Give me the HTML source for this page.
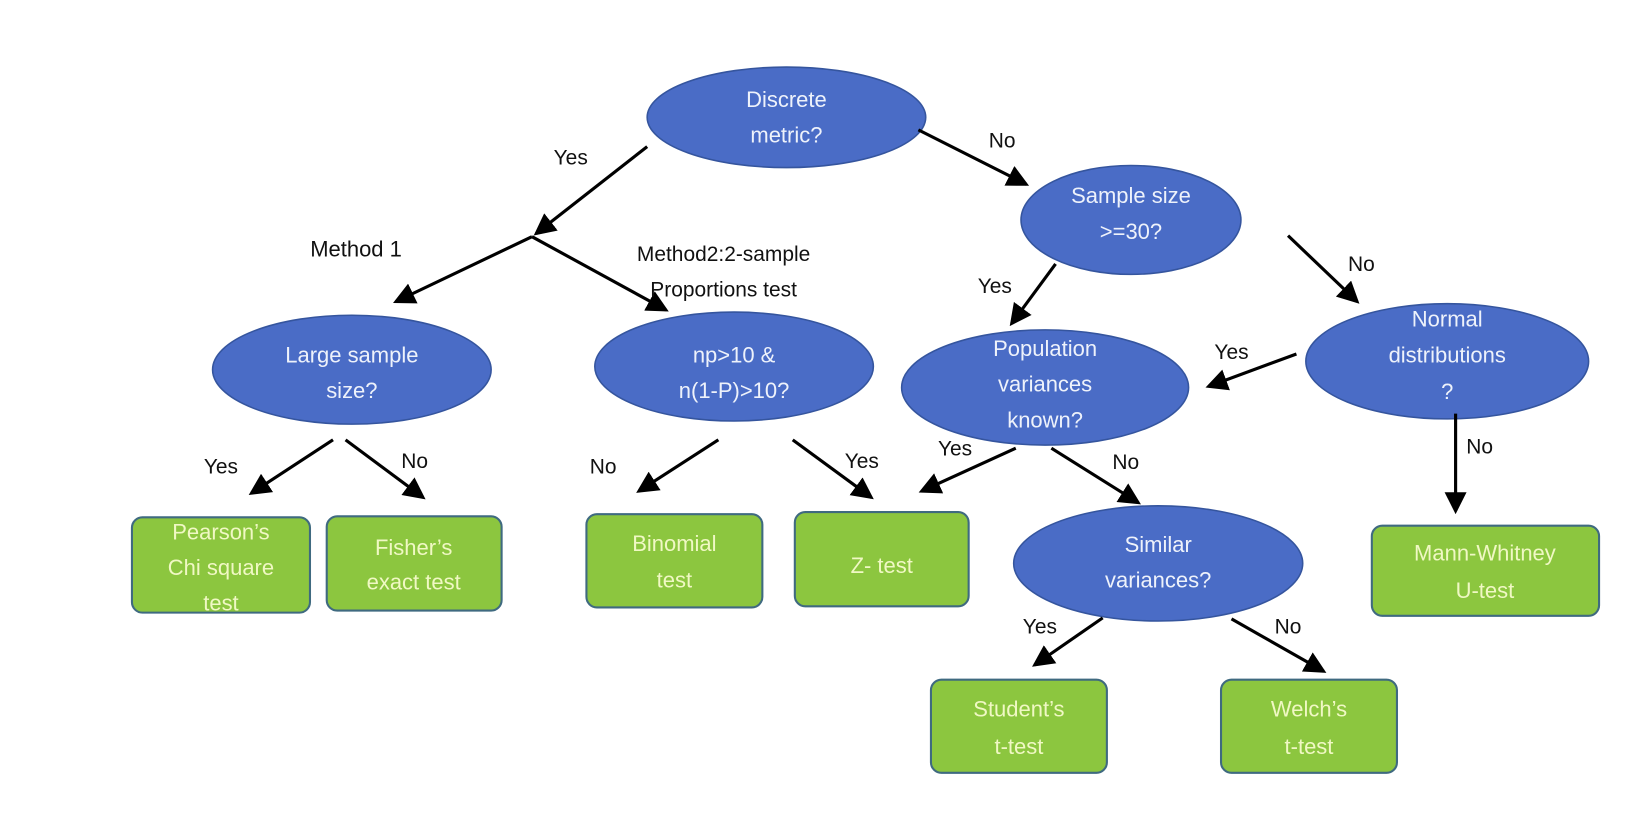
<!DOCTYPE html>
<html><head><meta charset="utf-8"><style>
html,body{margin:0;padding:0;background:#fff;}
svg{display:block;}
.e{fill:#4a6cc6;stroke:#35559e;stroke-width:1.5;}
.b{fill:#8cc63f;stroke:#3f6a80;stroke-width:2;}
.et{fill:#eef2fb;font-family:"Liberation Sans",sans-serif;font-size:21px;text-anchor:middle;}
.bt{fill:#f0f8c4;font-family:"Liberation Sans",sans-serif;font-size:21px;text-anchor:middle;}
.l{fill:#111;font-family:"Liberation Sans",sans-serif;font-size:20px;text-anchor:middle;}
.a{stroke:#000;stroke-width:3;fill:none;marker-end:url(#ah);}
</style></head><body>
<svg width="1642" height="820" viewBox="0 0 1568 783" xmlns="http://www.w3.org/2000/svg">
<defs><marker id="ah" markerWidth="7" markerHeight="7" refX="6" refY="3.5" orient="auto" markerUnits="strokeWidth"><path d="M0,0 L7,3.5 L0,7 z" fill="#000"/></marker></defs>
<ellipse class="e" cx="751" cy="112" rx="133" ry="48"/>
<text class="et" x="751" y="102">Discrete</text><text class="et" x="751" y="136">metric?</text>
<ellipse class="e" cx="1080" cy="210" rx="105" ry="52"/>
<text class="et" x="1080" y="194">Sample size</text><text class="et" x="1080" y="228">&gt;=30?</text>
<ellipse class="e" cx="336" cy="353" rx="133" ry="52"/>
<text class="et" x="336" y="346">Large sample</text><text class="et" x="336" y="380">size?</text>
<ellipse class="e" cx="701" cy="350" rx="133" ry="52"/>
<text class="et" x="701" y="346">np&gt;10 &amp;</text><text class="et" x="701" y="380">n(1-P)&gt;10?</text>
<ellipse class="e" cx="998" cy="370" rx="137" ry="55"/>
<text class="et" x="998" y="340">Population</text><text class="et" x="998" y="374">variances</text><text class="et" x="998" y="408">known?</text>
<ellipse class="e" cx="1382" cy="345" rx="135" ry="55"/>
<text class="et" x="1382" y="312">Normal</text><text class="et" x="1382" y="346">distributions</text><text class="et" x="1382" y="381">?</text>
<ellipse class="e" cx="1106" cy="538" rx="138" ry="55"/>
<text class="et" x="1106" y="527">Similar</text><text class="et" x="1106" y="561">variances?</text>
<rect class="b" x="126" y="494" width="170" height="91" rx="10"/>
<text class="bt" x="211" y="515">Pearson’s</text><text class="bt" x="211" y="549">Chi square</text><text class="bt" x="211" y="583">test</text>
<rect class="b" x="312" y="493" width="167" height="90" rx="10"/>
<text class="bt" x="395" y="530">Fisher’s</text><text class="bt" x="395" y="563">exact test</text>
<rect class="b" x="560" y="491" width="168" height="89" rx="10"/>
<text class="bt" x="644" y="526">Binomial</text><text class="bt" x="644" y="561">test</text>
<rect class="b" x="759" y="489" width="166" height="90" rx="10"/>
<text class="bt" x="842" y="547">Z- test</text>
<rect class="b" x="1310" y="502" width="217" height="86" rx="10"/>
<text class="bt" x="1418" y="535">Mann-Whitney</text><text class="bt" x="1418" y="571">U-test</text>
<rect class="b" x="889" y="649" width="168" height="89" rx="10"/>
<text class="bt" x="973" y="684">Student’s</text><text class="bt" x="973" y="720">t-test</text>
<rect class="b" x="1166" y="649" width="168" height="89" rx="10"/>
<text class="bt" x="1250" y="684">Welch’s</text><text class="bt" x="1250" y="720">t-test</text>
<line class="a" x1="618" y1="140" x2="512" y2="223"/>
<line class="a" x1="508" y1="226" x2="378" y2="288"/>
<line class="a" x1="508" y1="226" x2="636" y2="296"/>
<line class="a" x1="877" y1="124" x2="980" y2="176"/>
<line class="a" x1="1008" y1="252" x2="966" y2="309"/>
<line class="a" x1="1230" y1="225" x2="1296" y2="288"/>
<line class="a" x1="1238" y1="338" x2="1154" y2="369"/>
<line class="a" x1="1390" y1="395" x2="1390" y2="488"/>
<line class="a" x1="318" y1="420" x2="240" y2="471"/>
<line class="a" x1="330" y1="420" x2="404" y2="475"/>
<line class="a" x1="686" y1="420" x2="610" y2="469"/>
<line class="a" x1="757" y1="420" x2="832" y2="475"/>
<line class="a" x1="970" y1="428" x2="880" y2="469"/>
<line class="a" x1="1004" y1="428" x2="1087" y2="480"/>
<line class="a" x1="1053" y1="590" x2="988" y2="635"/>
<line class="a" x1="1176" y1="591" x2="1264" y2="641"/>
<text class="l" x="545" y="157">Yes</text>
<text class="l" x="957" y="141">No</text>
<text class="l" x="340" y="245" style="font-size:21px">Method 1</text>
<text class="l" x="691" y="249">Method2:2-sample</text>
<text class="l" x="691" y="283">Proportions test</text>
<text class="l" x="950" y="280">Yes</text>
<text class="l" x="1300" y="259">No</text>
<text class="l" x="1176" y="343">Yes</text>
<text class="l" x="1413" y="433">No</text>
<text class="l" x="211" y="452">Yes</text>
<text class="l" x="396" y="447">No</text>
<text class="l" x="576" y="452">No</text>
<text class="l" x="823" y="447">Yes</text>
<text class="l" x="912" y="435">Yes</text>
<text class="l" x="1075" y="448">No</text>
<text class="l" x="993" y="605">Yes</text>
<text class="l" x="1230" y="605">No</text>
</svg>
</body></html>
